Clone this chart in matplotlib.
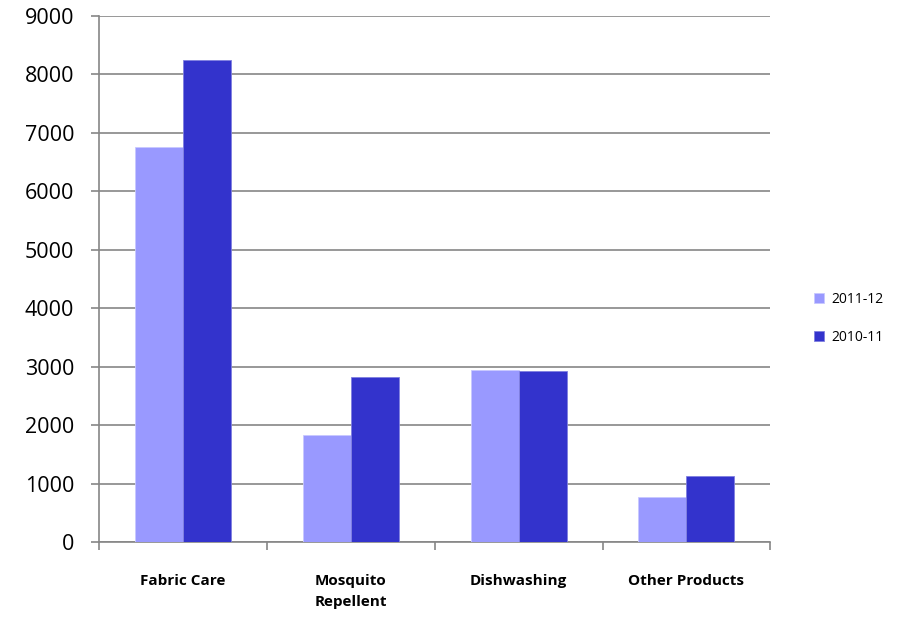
import numpy as np
import matplotlib.pyplot as plt

# Dados
categorias = ['Fabric Care', 'Mosquito\nRepellent', 'Dishwashing', 'Other Products']
vendas_2011_12 = [6760, 1830, 2935, 770]
vendas_2010_11 = [8250, 2820, 2925, 1130]
series = ['2011-12', '2010-11']
cores = ['#9999FF', '#3333CC']

plt.rcParams['font.family'] = ['Open Sans', 'DejaVu Sans']

fig = plt.figure(figsize=(9.01, 6.17), dpi=100)
ax = fig.add_axes([0.110, 0.1216, 0.745, 0.8525])

x = np.arange(len(categorias))
largura = 0.286

ax.bar(x - largura / 2, vendas_2011_12, largura, color=cores[0], label=series[0],
       edgecolor='#C8C8FF', linewidth=0.6, zorder=3)
ax.bar(x + largura / 2, vendas_2010_11, largura, color=cores[1], label=series[1],
       edgecolor='#8080E0', linewidth=0.6, zorder=3)

ax.set_xlim(-0.5, len(categorias) - 0.5)
ax.set_ylim(0, 9000)
ax.set_yticks(np.arange(0, 9001, 1000))
ax.yaxis.grid(True, color='#868686', linewidth=1.2, zorder=0)

# Eixo x: rótulos no centro, marcas nas divisões
ax.set_xticks(x)
ax.set_xticklabels(categorias, fontweight='bold', fontsize=11, linespacing=1.6)
ax.set_xticks(np.arange(-0.5, len(categorias)), minor=True)
ax.tick_params(axis='x', which='major', length=0, pad=23)
ax.tick_params(axis='x', which='minor', length=6, color='#868686', width=1.2)
ax.tick_params(axis='y', length=6, color='#868686', width=1.2, labelsize=15.5, pad=12)

for lado in ['top', 'right']:
    ax.spines[lado].set_visible(False)
for lado in ['left', 'bottom']:
    ax.spines[lado].set_color('#868686')
    ax.spines[lado].set_linewidth(1.2)

fig.legend(loc='center left', bbox_to_anchor=(0.89, 0.484), frameon=False,
           fontsize=10, handlelength=0.7, handleheight=0.7, labelspacing=1.65,
           handletextpad=0.5)

plt.savefig('out.png', dpi=100)
